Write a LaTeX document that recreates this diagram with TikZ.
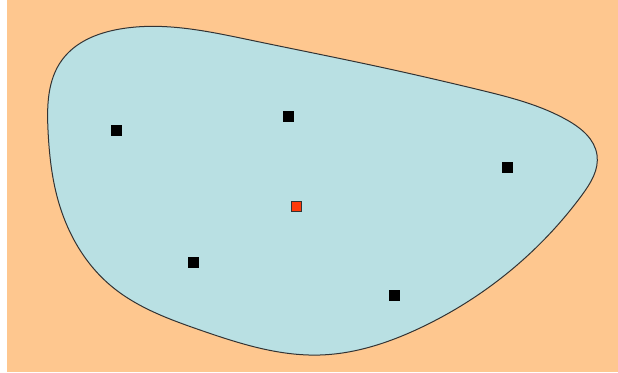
\documentclass[tikz,border=0pt]{standalone}
\usepackage{tikz}
\usetikzlibrary{hobby}
\definecolor{sand}{HTML}{FEC78F}
\definecolor{lake}{HTML}{B9E0E3}
\definecolor{hot}{HTML}{FF3A0A}

\begin{document}
\begin{tikzpicture}[x=1pt,y=-1pt,
   site/.style={draw=black,fill=black,minimum size=10pt,inner sep=0pt},
   centre/.style={site,fill=hot,draw=black!80}]
  \useasboundingbox (0,0) rectangle (618,372);
  \fill[sand] (7,0) rectangle (618,372);
  % region
  \draw[fill=lake,draw=black!80,line width=1pt,use Hobby shortcut,closed=true]
    (48,130) .. (62,60) .. (120,29) .. (250,40) .. (380,67) .. (480,90)
    .. (567,120) .. (597,155) .. (582,195) .. (420,328)
    .. (320,355) .. (200,330) .. (110,285) .. (58,200);
  \node[site] (a) at (116,130) {};
  \node[site] (b) at (288,116) {};
  \node[site] (c) at (507,167) {};
  \node[site] (d) at (193,262) {};
  \node[site] (e) at (394,295) {};
  \node[centre] (o) at (296,206) {};
\end{tikzpicture}
\end{document}
